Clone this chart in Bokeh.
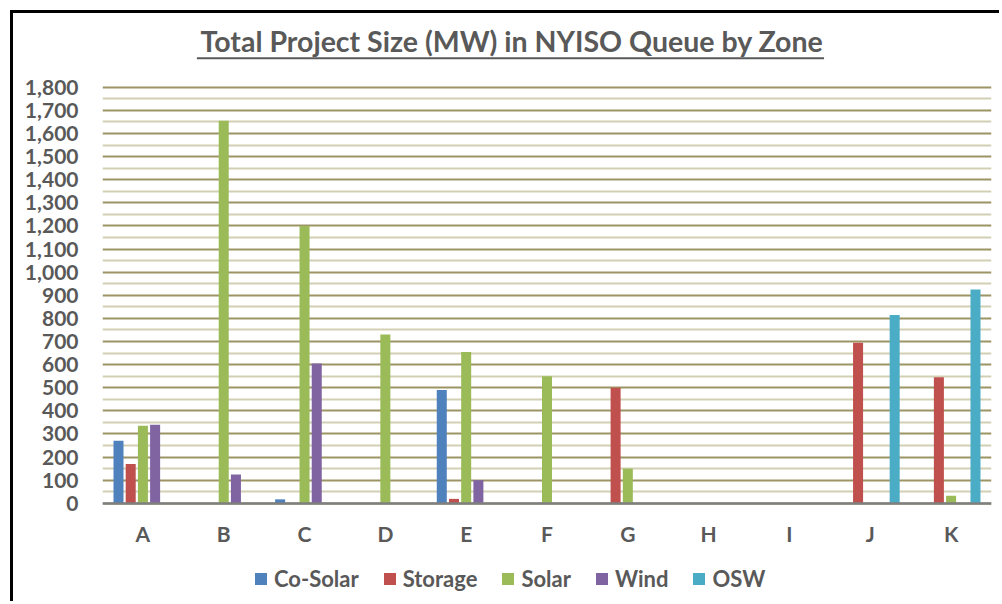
from bokeh.plotting import figure
from bokeh.models import (FactorRange, Range1d, FixedTicker, NumeralTickFormatter,
                          Legend, LegendItem, ColumnDataSource)
from bokeh.transform import dodge
from bokeh.core.properties import value
from bokeh.embed import file_html
from bokeh.resources import INLINE
import numpy as np

zones = ["A", "B", "C", "D", "E", "F", "G", "H", "I", "J", "K"]
nan = np.nan
co_solar = [270, nan, 17, nan, 490, nan, nan, nan, nan, nan, nan]
storage = [170, nan, nan, nan, 19, nan, 500, nan, nan, 695, 545]
solar = [335, 1655, 1200, 730, 655, 550, 150, nan, nan, nan, 33]
wind = [340, 125, 605, nan, 100, nan, nan, nan, nan, nan, nan]
osw = [nan, nan, nan, nan, nan, nan, nan, nan, nan, 815, 925]

series_names = ["Co-Solar", "Storage", "Solar", "Wind", "OSW"]
series_values = [co_solar, storage, solar, wind, osw]
colors = ["#4F81BD", "#C0504D", "#9BBB59", "#8064A2", "#4BACC6"]
y_ticks = list(range(0, 1801, 100))
y_minor = list(range(50, 1800, 100))

title_text = "Total Project Size (MW) in NYISO Queue by Zone"
FONT = "Lato"
GRAY = "#595959"

src = ColumnDataSource(dict(zone=zones, **{n: v for n, v in zip(series_names, series_values)}))

p = figure(x_range=FactorRange(factors=zones, range_padding=0),
           y_range=Range1d(-425, 2119),
           frame_width=889, frame_height=588,
           min_border_left=89, min_border_right=8, min_border_top=0, min_border_bottom=0,
           output_backend="svg", toolbar_location=None)
p.styles = {"border-left": "3px solid black", "border-top": "3px solid black",
            "margin-left": "10px", "margin-top": "10px"}
p.outline_line_color = None
p.background_fill_color = "white"

step = 0.151
renderers = []
for i, (name, col) in enumerate(zip(series_names, colors)):
    r = p.vbar(x=dodge("zone", (i - 2) * step, range=p.x_range), top=name, width=0.124,
               source=src, fill_color=col, line_color=None)
    renderers.append(r)

# grid
p.ygrid.ticker = FixedTicker(ticks=y_ticks, minor_ticks=y_minor)
p.ygrid.grid_line_color = "#9d9465"
p.ygrid.grid_line_width = 2
p.ygrid.minor_grid_line_color = "#d3cfb3"
p.ygrid.minor_grid_line_width = 2
p.xgrid.grid_line_color = None

# y axis
p.yaxis.ticker = FixedTicker(ticks=y_ticks)
p.yaxis.formatter = NumeralTickFormatter(format="0,0")
p.yaxis.axis_line_color = None
p.yaxis.major_tick_line_color = None
p.yaxis.minor_tick_line_color = None
p.yaxis.major_tick_out = 0
p.yaxis.major_label_standoff = 24
p.yaxis.major_label_text_font = FONT
p.yaxis.major_label_text_font_style = "bold"
p.yaxis.major_label_text_font_size = "21px"
p.yaxis.major_label_text_color = GRAY

# x axis, drawn at value 0 inside the frame
p.xaxis.fixed_location = 0
p.xaxis.axis_line_color = "#7f7f7f"
p.xaxis.axis_line_width = 2.5
p.xaxis.major_tick_line_color = None
p.xaxis.minor_tick_line_color = None
p.xaxis.major_tick_out = 0
p.xaxis.major_label_standoff = 18
p.xaxis.major_label_text_font = FONT
p.xaxis.major_label_text_font_style = "bold"
p.xaxis.major_label_text_font_size = "21px"
p.xaxis.major_label_text_color = GRAY

# title (with underline)
p.text(x=[5.067], y=[1998], text=[title_text], text_align="center", text_baseline="alphabetic",
       text_font=value(FONT), text_font_style="bold", text_font_size="28.5px", text_color=GRAY)
p.segment(x0=[1.168], y0=[1925], x1=[8.928], y1=[1925], line_color=GRAY, line_width=2)

legend = Legend(items=[LegendItem(label=n, renderers=[r]) for n, r in zip(series_names, renderers)],
                orientation="horizontal", location=(151, 9),
                glyph_width=15, glyph_height=15, label_standoff=6, spacing=23,
                label_text_font=FONT, label_text_font_style="bold", label_text_font_size="22px",
                label_text_color=GRAY, border_line_color=None, background_fill_alpha=0,
                padding=0, margin=0)
p.add_layout(legend, "center")

open("out.html", "w").write(file_html(p, INLINE))
